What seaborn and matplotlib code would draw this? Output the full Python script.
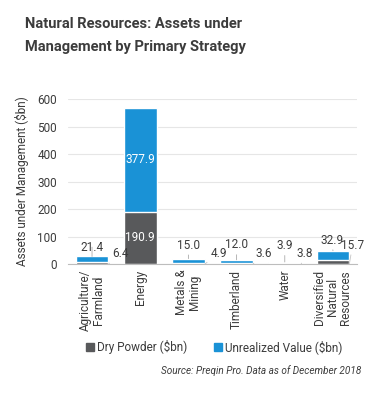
import pandas as pd
import seaborn as sns
import numpy as np
import matplotlib.pyplot as plt
from matplotlib.patches import Patch

categories = ['Agriculture/\nFarmland', 'Energy', 'Metals &\nMining', 'Timberland', 'Water',
              'Diversified\nNatural\nResources']
dry_powder = [6.4, 190.9, 4.9, 3.6, 3.8, 15.7]
unrealized = [21.4, 377.9, 15.0, 12.0, 3.9, 32.9]

dark = '#58595b'
blue = '#1a92d6'
txt = '#3c3c3c'

sns.set_style('white')
plt.rcParams['font.family'] = ['Roboto', 'DejaVu Sans']

df = pd.DataFrame({'cat': categories, 'dry': dry_powder, 'unr': unrealized})
df['total'] = df['dry'] + df['unr']

fig = plt.figure(figsize=(3.86, 3.93), dpi=100)
ax = fig.add_axes([0.176, 0.328, 0.749, 0.42])

sns.barplot(data=df, x='cat', y='total', color=blue, width=0.68, saturation=1, ax=ax)
sns.barplot(data=df, x='cat', y='dry', color=dark, width=0.68, saturation=1, ax=ax)

ax.set_ylim(0, 600)
ax.set_xlim(-0.5, len(categories) - 0.5)
ax.set_yticks(range(0, 601, 100))
ax.yaxis.grid(True, color='#e6e6e6', lw=0.8)
ax.set_axisbelow(True)
for s in ['top', 'right', 'left']:
    ax.spines[s].set_visible(False)
ax.spines['bottom'].set_color('#bdbdbd')
ax.tick_params(axis='y', length=0, labelsize=8.5, colors=txt, pad=8)
ax.tick_params(axis='x', length=0, labelsize=8.5, colors=txt, pad=4)
ax.set_xticks(range(len(categories)))
ax.set_xticklabels(categories, rotation=90, va='top', ha='center', linespacing=1.0)
ax.set_xlabel('')
ax.set_ylabel('Assets under Management ($bn)', fontsize=8.5, color=txt, labelpad=6)

hw = 0.34
# label offsets in points from bar top (unrealized) and bar right edge at baseline (dry powder)
unr_off = {0: (0, 2), 2: (0, 5), 3: (0, 6), 4: (0, 7), 5: (-1, 3)}
dry_off = {0: (3, 3), 2: (4, 3), 3: (1.5, 3), 4: (-3, 3), 5: (-6, 9)}
for i, (d, u) in enumerate(zip(dry_powder, unrealized)):
    tot = d + u
    if tot > 100:
        ax.text(i, d + u / 2, f'{u:.1f}', color='white', ha='center', va='center', fontsize=8.5)
        ax.text(i, d / 2, f'{d:.1f}', color='white', ha='center', va='center', fontsize=8.5)
        continue
    ax.annotate(f'{u:.1f}', xy=(i, tot), xytext=unr_off[i], textcoords='offset points',
                ha='center', va='bottom', fontsize=8.5, color=txt,
                arrowprops=dict(arrowstyle='-', color='#aaaaaa', lw=0.6, shrinkA=0, shrinkB=0))
    ax.annotate(f'{d:.1f}', xy=(i + hw, 0), xytext=dry_off[i], textcoords='offset points',
                ha='left', va='bottom', fontsize=8.5, color=txt,
                arrowprops=dict(arrowstyle='-', color='#c4c4c4', lw=0.6, shrinkA=0, shrinkB=0))

fig.text(0.065, 0.94, 'Natural Resources: Assets under', fontsize=10.5, fontweight='bold',
         color=txt, ha='left', va='center')
fig.text(0.065, 0.88, 'Management by Primary Strategy', fontsize=10.5, fontweight='bold',
         color=txt, ha='left', va='center')

handles = [Patch(color=dark, label='Dry Powder ($bn)'), Patch(color=blue, label='Unrealized Value ($bn)')]
fig.legend(handles=handles, loc='center', bbox_to_anchor=(0.555, 0.117), ncol=2, frameon=False,
           fontsize=8.5, handlelength=0.7, handleheight=0.7, handletextpad=0.3, columnspacing=2.2,
           labelcolor=txt)
fig.text(0.935, 0.058, 'Source: Preqin Pro. Data as of December 2018', fontsize=7.2,
         style='italic', color=txt, ha='right', va='center')

fig.savefig('out.png', dpi=100)
